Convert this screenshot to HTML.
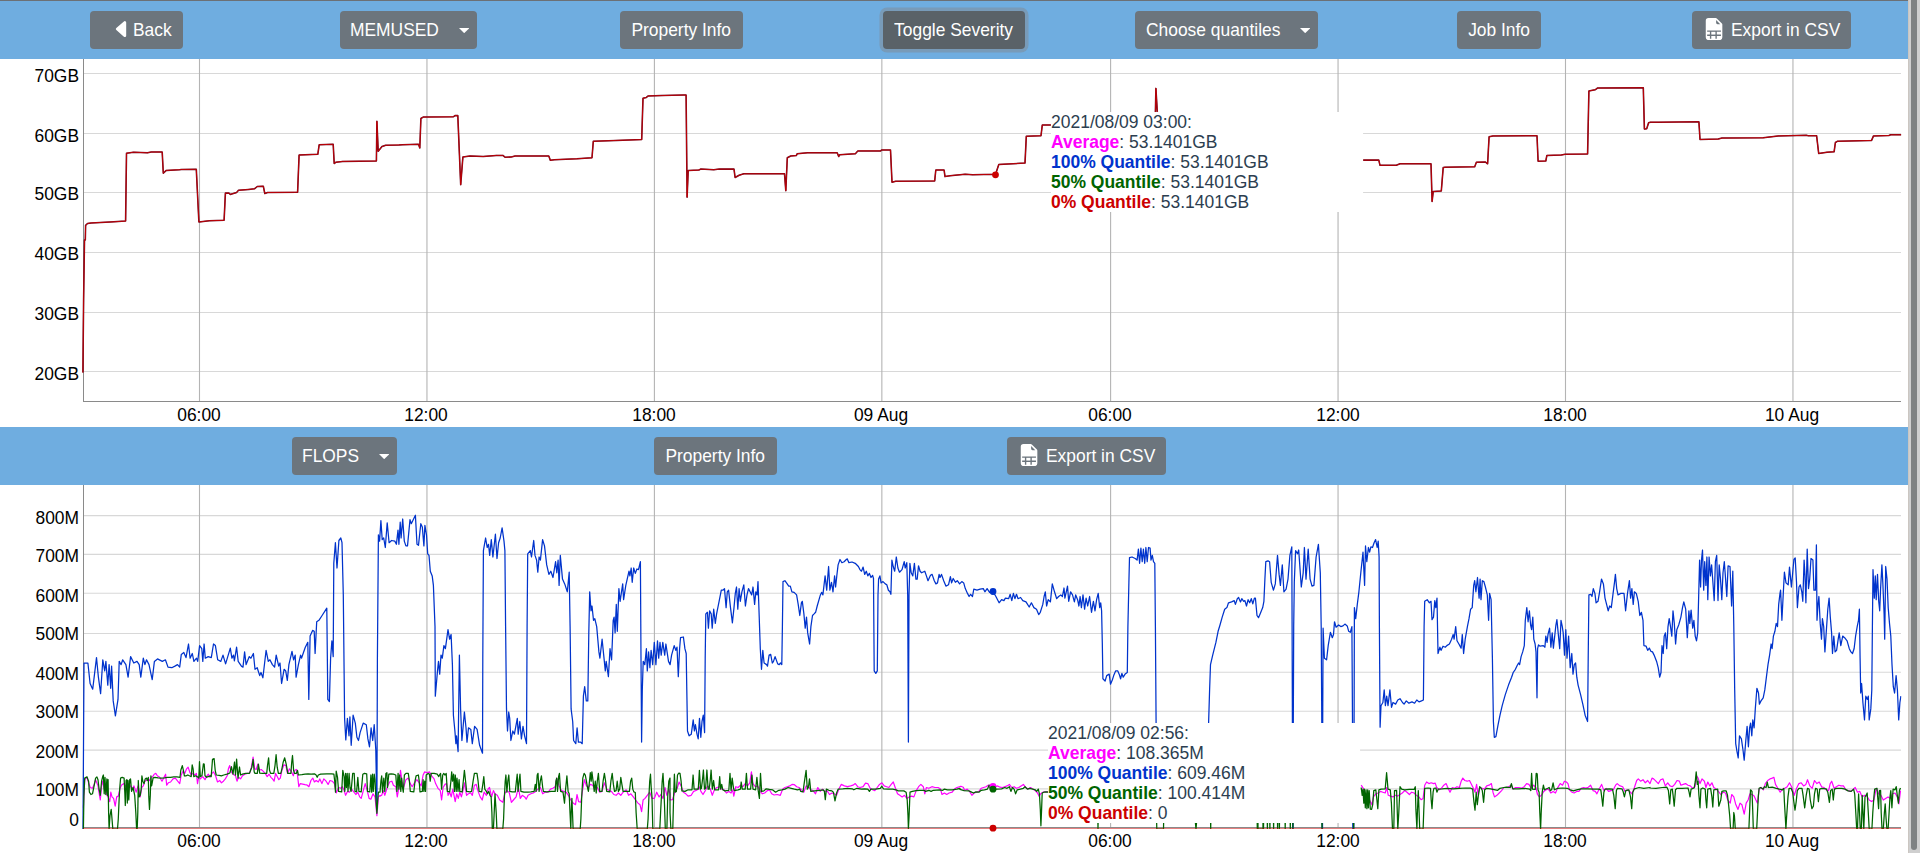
<!DOCTYPE html>
<html lang="en">
<head>
<meta charset="utf-8">
<title>Job metrics</title>
<style>
html,body{margin:0;padding:0;}
body{width:1920px;height:853px;overflow:hidden;background:#fff;font-family:"Liberation Sans",Arial,Helvetica,sans-serif;color:#2c3e50;position:relative;}
#app{position:absolute;left:0;top:0;width:1908px;height:853px;overflow:hidden;background:#fff;}
.topline{position:absolute;left:0;top:0;width:1908px;height:1px;background:#6c7075;}
.bar{position:absolute;left:0;width:1908px;height:58px;background:#6fade0;}
.btn{position:absolute;top:10px;height:38px;box-sizing:border-box;background:#6c757d;color:#fff;border-radius:4px;font-size:18.6px;line-height:38px;text-align:center;white-space:nowrap;}
.btn.active{background:#5a6268;box-shadow:0 0 0 3.5px rgba(130,138,145,.5);}
.caret{position:absolute;top:16.9px;}
.plot{position:absolute;left:0;top:0;}
.yl{position:absolute;left:0.5px;width:78px;text-align:right;font-size:18.6px;line-height:20px;color:#000;transform:scaleX(.9355);transform-origin:100% 50%;}
.xl{position:absolute;width:80px;text-align:center;font-size:18.6px;line-height:20px;color:#000;transform:scaleX(.9355);transform-origin:50% 50%;}
.legend{position:absolute;background:#fff;width:332px;height:100px;font-size:18.6px;line-height:20px;color:#2c3e50;white-space:nowrap;transform:scaleX(.94);transform-origin:0 0;}
.legend b{font-weight:bold;}
.sb{position:absolute;left:1908px;top:0;width:12px;height:853px;background:#cfcfcf;border-left:1px solid #cbc6c1;box-sizing:border-box;}
.sb i{position:absolute;left:2px;top:0;width:6px;height:850px;background:#7f8283;border-radius:0 0 3px 3px;}
.ico{position:absolute;top:6.9px;}
.btn .t{position:absolute;top:0;transform:scaleX(.9355);transform-origin:0 50%;}
.btn .c{display:inline-block;transform:scaleX(.9355);transform-origin:50% 50%;}
</style>
</head>
<body>
<div id="app">
<svg class="plot" width="1908" height="853" viewBox="0 0 1908 853">
<g stroke="#d8d8d8" stroke-width="1.1">
<line x1="84" y1="73.5" x2="1901" y2="73.5"/>
<line x1="84" y1="133.5" x2="1901" y2="133.5"/>
<line x1="84" y1="192.5" x2="1901" y2="192.5"/>
<line x1="84" y1="252.5" x2="1901" y2="252.5"/>
<line x1="84" y1="312.5" x2="1901" y2="312.5"/>
<line x1="84" y1="371.5" x2="1901" y2="371.5"/>
<line x1="84" y1="515.6" x2="1901" y2="515.6"/>
<line x1="84" y1="554.4" x2="1901" y2="554.4"/>
<line x1="84" y1="593.3" x2="1901" y2="593.3"/>
<line x1="84" y1="633.5" x2="1901" y2="633.5"/>
<line x1="84" y1="672.3" x2="1901" y2="672.3"/>
<line x1="84" y1="711.2" x2="1901" y2="711.2"/>
<line x1="84" y1="750.1" x2="1901" y2="750.1"/>
<line x1="84" y1="788.9" x2="1901" y2="788.9"/>
</g>
<g stroke="#b4b4b4" stroke-width="1.1">
<line x1="199.5" y1="59" x2="199.5" y2="401"/>
<line x1="199.5" y1="485" x2="199.5" y2="827"/>
<line x1="426.95" y1="59" x2="426.95" y2="401"/>
<line x1="426.95" y1="485" x2="426.95" y2="827"/>
<line x1="654.4" y1="59" x2="654.4" y2="401"/>
<line x1="654.4" y1="485" x2="654.4" y2="827"/>
<line x1="881.85" y1="59" x2="881.85" y2="401"/>
<line x1="881.85" y1="485" x2="881.85" y2="827"/>
<line x1="1110.6" y1="59" x2="1110.6" y2="401"/>
<line x1="1110.6" y1="485" x2="1110.6" y2="827"/>
<line x1="1338.05" y1="59" x2="1338.05" y2="401"/>
<line x1="1338.05" y1="485" x2="1338.05" y2="827"/>
<line x1="1565.5" y1="59" x2="1565.5" y2="401"/>
<line x1="1565.5" y1="485" x2="1565.5" y2="827"/>
<line x1="1792.95" y1="59" x2="1792.95" y2="401"/>
<line x1="1792.95" y1="485" x2="1792.95" y2="827"/>
</g>
<g stroke="#8a8a8a" stroke-width="1" shape-rendering="crispEdges">
<line x1="83.5" y1="59" x2="83.5" y2="402"/><line x1="83" y1="401.5" x2="1901" y2="401.5"/>
<line x1="83.5" y1="485" x2="83.5" y2="828"/><line x1="83" y1="827.5" x2="1901" y2="827.5"/>
</g>
<path d="M82.9,372.6 L83.6,300 L84.5,240 L85.3,240.0 L85.6,225.4 L87.5,223.5 L91.3,222.9 L110.0,222.0 L125.6,221.1 L126.5,153.2 L133.5,152.2 L147.5,152.8 L151.3,152.0 L162.2,152.0 L163.3,173.2 L166.3,170.4 L179.4,169.7 L181.3,169.5 L196.3,169.3 L198.9,222.0 L209.4,220.7 L224.1,220.3 L225.4,193.1 L229.1,193.1 L230.1,194.4 L236.6,192.5 L238.5,190.3 L248.8,189.4 L254.4,188.8 L257.3,186.5 L263.3,186.2 L264.8,193.5 L267.6,192.5 L297.6,192.2 L299.1,155.0 L317.8,154.3 L319.2,144.7 L333.2,144.3 L334.2,163.5 L336.0,162.2 L342.6,161.4 L376.4,161.0 L376.9,121.3 L378.2,151.3 L382.0,146.6 L385.7,145.3 L398.9,144.9 L402.5,144.7 L418.5,144.3 L419.8,147.9 L420.9,118.5 L423.1,117.1 L453.2,116.8 L455.0,115.6 L457.8,115.6 L460.7,184.7 L462.9,156.9 L470.0,156.0 L483.2,156.5 L496.3,155.4 L502.9,155.4 L505.3,157.3 L511.3,156.9 L515.1,156.0 L548.8,156.0 L550.3,160.3 L554.4,159.7 L577.0,158.8 L592.0,157.8 L593.3,141.3 L616.3,140.4 L641.7,139.6 L643.0,98.2 L646.4,97.4 L648.2,95.9 L661.4,95.6 L683.9,95.0 L686.1,95.0 L687.1,197.2 L688.2,170.6 L698.9,170.0 L700.6,169.1 L713.8,169.7 L719.4,169.1 L734.0,169.1 L735.1,177.5 L739.1,175.3 L743.8,173.8 L784.5,173.8 L785.8,190.7 L787.3,157.8 L790.7,156.0 L796.3,155.6 L797.2,153.7 L807.5,152.8 L837.2,152.8 L838.7,156.5 L839.8,154.7 L855.4,153.7 L857.8,150.9 L880.7,150.9 L881.6,150.0 L890.5,150.0 L892.0,182.2 L895.7,181.3 L934.7,180.9 L935.8,170.0 L944.1,170.0 L945.0,176.6 L950.1,175.7 L965.1,174.2 L972.6,174.7 L995.1,174.3 L995.4,174.7 L998.8,164.4 L1025.0,163.1 L1026.3,136.3 L1041.0,135.7 L1042.3,125.0 L1050.9,125.0" fill="none" stroke="#640a24" stroke-width="1.55" stroke-linejoin="round"/>
<path d="M82.9,372.6 L83.6,300 L84.5,240 L85.3,240.0 L85.6,225.4 L87.5,223.5 L91.3,222.9 L110.0,222.0 L125.6,221.1 L126.5,153.2 L133.5,152.2 L147.5,152.8 L151.3,152.0 L162.2,152.0 L163.3,173.2 L166.3,170.4 L179.4,169.7 L181.3,169.5 L196.3,169.3 L198.9,222.0 L209.4,220.7 L224.1,220.3 L225.4,193.1 L229.1,193.1 L230.1,194.4 L236.6,192.5 L238.5,190.3 L248.8,189.4 L254.4,188.8 L257.3,186.5 L263.3,186.2 L264.8,193.5 L267.6,192.5 L297.6,192.2 L299.1,155.0 L317.8,154.3 L319.2,144.7 L333.2,144.3 L334.2,163.5 L336.0,162.2 L342.6,161.4 L376.4,161.0 L376.9,121.3 L378.2,151.3 L382.0,146.6 L385.7,145.3 L398.9,144.9 L402.5,144.7 L418.5,144.3 L419.8,147.9 L420.9,118.5 L423.1,117.1 L453.2,116.8 L455.0,115.6 L457.8,115.6 L460.7,184.7 L462.9,156.9 L470.0,156.0 L483.2,156.5 L496.3,155.4 L502.9,155.4 L505.3,157.3 L511.3,156.9 L515.1,156.0 L548.8,156.0 L550.3,160.3 L554.4,159.7 L577.0,158.8 L592.0,157.8 L593.3,141.3 L616.3,140.4 L641.7,139.6 L643.0,98.2 L646.4,97.4 L648.2,95.9 L661.4,95.6 L683.9,95.0 L686.1,95.0 L687.1,197.2 L688.2,170.6 L698.9,170.0 L700.6,169.1 L713.8,169.7 L719.4,169.1 L734.0,169.1 L735.1,177.5 L739.1,175.3 L743.8,173.8 L784.5,173.8 L785.8,190.7 L787.3,157.8 L790.7,156.0 L796.3,155.6 L797.2,153.7 L807.5,152.8 L837.2,152.8 L838.7,156.5 L839.8,154.7 L855.4,153.7 L857.8,150.9 L880.7,150.9 L881.6,150.0 L890.5,150.0 L892.0,182.2 L895.7,181.3 L934.7,180.9 L935.8,170.0 L944.1,170.0 L945.0,176.6 L950.1,175.7 L965.1,174.2 L972.6,174.7 L995.1,174.3 L995.4,174.7 L998.8,164.4 L1025.0,163.1 L1026.3,136.3 L1041.0,135.7 L1042.3,125.0 L1050.9,125.0" fill="none" stroke="#cc0000" stroke-width="0.85" stroke-linejoin="round"/>
<path d="M1155.4,111.9 L1155.9,88.4 L1157.3,111.9" fill="none" stroke="#640a24" stroke-width="1.55" stroke-linejoin="round"/>
<path d="M1155.4,111.9 L1155.9,88.4 L1157.3,111.9" fill="none" stroke="#cc0000" stroke-width="0.85" stroke-linejoin="round"/>
<path d="M1363.1,160.1 L1378.8,160.1 L1380.0,165.3 L1396.3,165.3 L1400.0,163.8 L1431.0,163.8 L1432.1,201.5 L1433.2,191.6 L1441.3,191.0 L1443.2,167.6 L1445.0,167.2 L1474.7,166.8 L1476.4,162.2 L1485.4,162.0 L1487.6,163.8 L1489.1,136.8 L1492.9,135.9 L1537.0,135.7 L1538.1,161.2 L1545.8,161.0 L1546.9,155.4 L1561.3,155.0 L1565.1,154.3 L1587.6,153.9 L1588.9,90.9 L1595.1,89.8 L1597.4,88.1 L1643.3,87.7 L1644.4,129.1 L1646.7,128.8 L1648.6,122.8 L1650.4,122.2 L1658.9,122.2 L1698.9,121.8 L1700.0,139.5 L1718.2,139.1 L1721.9,138.1 L1763.2,137.8 L1778.2,135.9 L1806.3,135.3 L1808.2,135.7 L1816.6,135.7 L1818.7,153.5 L1827.0,152.2 L1834.1,151.8 L1835.4,142.5 L1837.3,141.3 L1871.6,140.4 L1873.5,135.9 L1888.9,135.5 L1890.7,134.8 L1901.1,134.8" fill="none" stroke="#640a24" stroke-width="1.55" stroke-linejoin="round"/>
<path d="M1363.1,160.1 L1378.8,160.1 L1380.0,165.3 L1396.3,165.3 L1400.0,163.8 L1431.0,163.8 L1432.1,201.5 L1433.2,191.6 L1441.3,191.0 L1443.2,167.6 L1445.0,167.2 L1474.7,166.8 L1476.4,162.2 L1485.4,162.0 L1487.6,163.8 L1489.1,136.8 L1492.9,135.9 L1537.0,135.7 L1538.1,161.2 L1545.8,161.0 L1546.9,155.4 L1561.3,155.0 L1565.1,154.3 L1587.6,153.9 L1588.9,90.9 L1595.1,89.8 L1597.4,88.1 L1643.3,87.7 L1644.4,129.1 L1646.7,128.8 L1648.6,122.8 L1650.4,122.2 L1658.9,122.2 L1698.9,121.8 L1700.0,139.5 L1718.2,139.1 L1721.9,138.1 L1763.2,137.8 L1778.2,135.9 L1806.3,135.3 L1808.2,135.7 L1816.6,135.7 L1818.7,153.5 L1827.0,152.2 L1834.1,151.8 L1835.4,142.5 L1837.3,141.3 L1871.6,140.4 L1873.5,135.9 L1888.9,135.5 L1890.7,134.8 L1901.1,134.8" fill="none" stroke="#cc0000" stroke-width="0.85" stroke-linejoin="round"/>
<circle cx="995.5" cy="174.8" r="3.4" fill="#cc0000"/>
<defs><clipPath id="c2clip"><rect x="82" y="485" width="1819.5" height="344"/></clipPath></defs><g fill="none" stroke-linejoin="round" clip-path="url(#c2clip)">
<path d="M83.4,807.8 L84.7,779.7 L87.0,777.3 L88.6,782.8 L90.2,787.5 L92.5,788.3 L94.1,784.4 L95.6,779.7 L98.0,785.9 L99.5,795.3 L100.3,800.0 L101.6,785.9 L102.7,781.2 L104.2,789.1 L105.8,787.5 L106.9,795.3 L108.1,796.9 L109.7,801.6 L110.8,792.2 L112.0,796.9 L113.6,798.4 L115.2,806.2 L116.7,796.9 L118.3,796.1 L119.8,789.1 L121.4,785.2 L123.8,783.6 L126.1,786.7 L128.4,783.6 L130.8,786.7 L132.3,789.1 L133.9,785.9 L136.2,792.2 L138.1,785.9 L140.2,796.9 L141.7,787.5 L143.3,785.9 L144.8,781.2 L146.4,780.5 L148.0,778.9 L149.5,780.5 L151.1,777.3 L152.7,776.6 L154.2,774.2 L155.8,773.4 L157.3,775.8 L159.7,777.3 L162.0,781.2 L164.4,776.6 L165.6,774.2 L166.7,785.2 L168.3,782.8 L170.6,782.0 L173.0,778.9 L175.3,778.1 L177.7,781.2 L179.7,783.6 L181.2,775.0 L183.1,771.1 L184.7,773.4 L186.6,768.8 L188.1,767.2 L189.7,771.9 L191.2,775.0 L192.8,773.4 L194.8,775.0 L196.4,773.4 L197.5,783.6 L198.8,776.6 L200.3,778.9 L202.7,776.6 L205.0,779.7 L206.9,775.8 L208.4,774.2 L210.0,777.3 L212.0,773.4 L213.6,771.9 L215.6,775.8 L217.5,782.0 L219.8,780.5 L221.4,782.8 L223.4,781.2 L225.3,778.9 L227.2,775.8 L228.4,768.8 L229.7,765.6 L231.2,771.9 L233.1,774.2 L235.5,775.8 L237.0,781.2 L238.6,777.3 L240.6,778.9 L242.5,775.8 L244.8,774.2 L247.2,773.4 L249.5,773.4 L251.1,768.8 L253.1,757.0 L254.7,768.8 L256.2,769.5 L257.8,764.1 L259.4,770.3 L261.2,769.5 L263.1,771.1 L265.2,773.4 L267.2,776.6 L269.1,774.2 L270.9,777.3 L272.5,778.9 L274.1,781.2 L275.6,773.4 L277.2,776.6 L278.8,779.7 L280.3,778.1 L281.9,770.3 L283.9,764.8 L285.9,765.6 L287.5,773.4 L289.4,768.8 L291.2,771.1 L293.3,775.8 L294.8,770.3 L296.4,769.5 L297.5,775.0 L298.8,786.7 L300.3,783.6 L302.7,784.1 L305.0,784.7 L307.3,785.2 L308.9,786.7 L310.9,780.5 L312.8,778.1 L314.4,782.0 L316.2,780.5 L318.3,782.0 L319.8,778.9 L321.9,783.6 L323.8,778.9 L326.1,781.2 L328.1,784.4 L330.0,780.5 L332.3,781.2 L334.4,783.6 L336.2,793.0 L338.6,787.5 L340.6,788.3 L342.5,786.7 L344.1,790.6 L345.6,795.3 L347.5,791.4 L349.5,792.2 L351.6,789.1 L353.4,791.4 L355.8,794.5 L357.8,792.2 L359.7,796.9 L361.2,798.4 L363.1,791.4 L365.2,783.6 L367.2,790.6 L369.1,798.4 L370.9,799.2 L373.0,793.8 L375.0,796.9 L376.9,815.6 L378.4,796.9 L380.0,795.3 L380.0,796.1 L381.7,795.3 L383.3,790.6 L384.8,795.3 L387.2,787.5 L389.5,782.0 L391.9,781.2 L393.4,785.2 L395.8,786.7 L397.3,796.9 L398.9,787.5 L400.5,770.3 L402.0,781.2 L403.6,787.5 L405.9,779.7 L408.3,778.1 L410.3,783.6 L412.2,786.7 L414.5,782.8 L416.9,779.7 L419.2,782.8 L421.2,785.9 L423.1,775.0 L424.7,771.9 L427.0,772.7 L429.4,771.9 L431.7,775.8 L434.1,778.9 L435.6,783.6 L438.0,788.3 L440.3,790.6 L441.6,800.0 L443.1,787.5 L445.0,784.4 L446.6,783.6 L448.1,795.3 L449.7,792.2 L451.2,796.9 L452.8,789.1 L455.2,801.6 L456.7,793.8 L458.3,798.4 L459.8,792.2 L461.4,796.9 L463.0,790.6 L464.5,782.8 L466.6,795.3 L468.4,793.8 L470.8,793.0 L472.3,795.3 L474.4,785.2 L476.2,784.4 L478.1,791.4 L480.2,796.9 L482.2,800.0 L484.1,792.2 L486.4,795.3 L488.0,789.1 L489.5,787.5 L491.6,796.9 L493.4,790.6 L495.0,793.8 L497.3,795.3 L499.7,800.0 L502.8,802.3 L504.7,793.8 L506.7,790.6 L509.1,792.2 L511.4,802.3 L513.4,800.0 L516.1,796.9 L518.4,787.5 L520.3,798.4 L522.3,795.3 L524.7,796.9 L526.2,799.2 L528.1,795.3 L530.9,793.8 L533.3,793.0 L535.6,791.4 L538.0,789.1 L540.3,787.5 L542.7,793.8 L545.0,792.2 L548.1,792.2 L550.5,789.1 L552.8,788.3 L555.2,786.7 L556.7,778.1 L559.1,785.9 L561.4,790.6 L563.8,791.4 L566.1,792.2 L568.4,795.3 L570.8,800.0 L573.1,803.1 L575.5,804.7 L577.0,794.5 L578.6,801.6 L580.9,802.3 L582.5,790.6 L584.4,779.7 L586.4,785.9 L588.4,787.5 L590.3,784.4 L592.7,785.2 L595.0,789.8 L597.3,787.5 L599.7,792.2 L602.0,791.4 L604.4,782.8 L606.7,789.1 L609.1,790.6 L611.4,791.4 L613.8,794.5 L616.1,795.3 L618.4,793.0 L620.8,795.3 L623.1,792.2 L626.2,789.8 L628.6,795.3 L630.9,793.8 L633.3,796.9 L635.6,800.0 L638.0,803.1 L640.0,804.7 L641.6,811.7 L643.1,800.0 L645.0,798.4 L647.3,795.3 L649.7,792.2 L652.0,798.4 L654.4,798.4 L656.7,792.2 L659.1,796.9 L660.9,794.5 L663.0,798.4 L665.0,787.5 L666.9,795.3 L668.8,789.1 L670.0,793.8 L670.0,800.0 L672.5,799.7 L674.8,792.2 L677.2,788.3 L679.1,782.0 L681.1,785.9 L683.4,792.2 L685.8,793.8 L688.1,796.1 L691.2,795.3 L693.6,791.4 L696.7,790.3 L699.1,786.7 L700.9,791.4 L703.0,794.5 L705.3,790.6 L707.7,785.9 L710.0,788.3 L712.3,795.3 L714.7,789.1 L717.0,787.5 L719.4,786.7 L721.7,789.1 L724.1,789.8 L726.4,793.0 L728.8,791.4 L731.1,793.0 L732.7,789.8 L733.8,796.1 L735.8,786.7 L738.1,787.5 L740.5,785.2 L742.8,786.7 L745.2,783.6 L747.5,785.9 L749.8,782.8 L751.4,771.9 L753.0,783.6 L755.3,786.7 L757.7,785.9 L760.0,790.6 L762.3,793.8 L764.7,793.0 L767.0,790.9 L769.4,789.8 L771.7,793.8 L774.1,795.0 L777.2,794.5 L780.3,795.3 L782.7,789.1 L785.0,787.5 L787.3,786.7 L789.7,785.9 L792.0,784.4 L794.4,784.7 L796.7,786.7 L799.1,787.5 L801.4,789.8 L803.8,792.2 L806.1,785.9 L808.4,786.7 L810.8,789.8 L813.1,790.6 L815.5,793.8 L817.8,787.5 L820.2,791.4 L822.5,789.1 L824.8,791.4 L827.2,790.9 L829.5,794.5 L831.9,793.0 L834.2,793.8 L836.6,795.3 L838.9,789.1 L841.2,784.4 L844.4,785.9 L847.5,786.7 L850.6,785.9 L853.0,785.2 L855.3,783.6 L857.7,786.7 L860.0,787.5 L863.1,786.7 L865.5,783.1 L867.8,783.6 L870.2,788.3 L872.5,789.8 L874.8,790.6 L877.2,787.5 L879.5,784.4 L881.9,782.8 L884.2,785.9 L886.6,786.7 L888.9,787.5 L891.2,784.4 L893.3,782.0 L895.2,787.5 L897.5,793.8 L899.8,795.3 L902.2,796.9 L904.5,795.3 L906.9,798.4 L909.2,796.9 L911.6,796.1 L913.9,796.9 L916.2,790.6 L918.6,786.7 L920.9,784.4 L923.3,786.7 L924.8,793.8 L926.4,787.5 L928.8,788.3 L931.9,786.7 L935.0,787.5 L938.1,787.5 L940.5,789.1 L942.0,794.5 L944.4,793.0 L946.7,794.5 L949.1,793.0 L952.2,792.2 L954.5,789.1 L956.9,787.5 L960.0,786.7 L960.9,786.2 L963.3,787.2 L964.8,790.6 L967.2,789.1 L969.5,791.4 L971.9,795.3 L974.2,793.0 L976.6,792.2 L978.9,791.4 L981.2,788.3 L983.6,787.5 L985.9,786.7 L988.3,785.2 L990.6,785.6 L993.0,784.7 L995.3,786.7 L997.7,785.9 L1000.0,787.2 L1002.3,787.5 L1004.7,786.7 L1007.0,785.9 L1009.4,784.4 L1011.7,787.5 L1014.1,786.7 L1016.4,788.3 L1018.8,787.5 L1021.1,785.9 L1023.4,784.4 L1025.8,787.5 L1028.1,789.1 L1030.5,787.5 L1032.8,789.1 L1035.2,790.6 L1037.5,793.0 L1039.1,796.1 L1040.6,793.8 L1043.0,792.2 L1045.3,791.9 L1050.0,791.9" stroke="#ff00ff" stroke-width="1.2"/>
<path d="M1361.2,785.2 L1363.3,788.3 L1365.6,795.3 L1368.0,796.9 L1370.3,801.6 L1371.9,804.7 L1373.4,796.9 L1375.8,793.8 L1378.1,793.0 L1380.5,791.4 L1382.8,792.2 L1385.2,793.0 L1386.7,787.5 L1388.3,795.3 L1390.6,796.1 L1393.0,796.9 L1395.3,795.3 L1397.7,796.1 L1400.0,794.5 L1402.3,793.0 L1404.7,790.6 L1407.0,792.2 L1409.4,794.5 L1411.7,792.2 L1414.1,793.0 L1416.4,795.3 L1418.8,796.9 L1421.1,799.7 L1423.1,798.4 L1424.7,785.2 L1426.6,782.0 L1428.9,783.6 L1431.2,782.8 L1433.6,783.6 L1435.2,783.1 L1436.7,787.5 L1439.1,789.8 L1441.4,788.3 L1443.8,785.2 L1446.1,783.6 L1448.1,788.3 L1450.0,792.2 L1452.3,787.5 L1454.7,788.3 L1457.0,786.7 L1459.4,787.5 L1461.2,781.2 L1462.8,778.1 L1464.8,780.5 L1467.2,781.2 L1469.5,780.5 L1471.9,785.2 L1473.4,788.3 L1475.0,792.2 L1476.6,784.4 L1478.1,794.5 L1479.7,787.5 L1482.0,788.3 L1484.4,789.1 L1486.7,785.9 L1489.1,785.2 L1491.4,783.6 L1493.0,792.2 L1494.5,796.9 L1496.9,795.3 L1499.2,793.0 L1501.6,790.6 L1503.9,787.5 L1506.2,787.5 L1508.6,786.7 L1510.9,785.2 L1513.3,789.1 L1515.6,787.5 L1518.8,787.5 L1521.9,788.0 L1524.2,786.7 L1526.6,783.6 L1528.9,784.4 L1531.2,788.3 L1533.6,785.2 L1535.9,787.5 L1537.5,794.5 L1539.4,796.9 L1541.4,795.3 L1543.8,791.4 L1546.1,789.8 L1548.4,789.1 L1550.8,793.0 L1553.1,791.4 L1555.5,793.0 L1557.8,787.5 L1560.2,783.6 L1562.5,785.2 L1564.4,781.2 L1566.4,782.0 L1568.0,783.6 L1569.5,789.8 L1571.9,792.2 L1574.2,793.0 L1576.6,791.4 L1578.9,791.4 L1581.2,788.3 L1583.6,787.5 L1585.9,788.0 L1588.3,787.2 L1590.6,785.2 L1593.0,790.6 L1595.3,791.4 L1596.9,793.8 L1599.2,789.1 L1601.6,784.4 L1603.9,790.6 L1606.2,788.3 L1608.6,791.4 L1610.9,790.6 L1613.3,789.8 L1615.6,785.2 L1617.2,783.6 L1619.5,785.6 L1622.7,786.7 L1625.0,791.4 L1627.3,789.8 L1629.7,791.4 L1632.0,793.8 L1634.4,787.5 L1636.7,780.5 L1638.3,778.9 L1640.6,781.2 L1643.0,779.7 L1645.3,782.8 L1647.7,780.5 L1650.0,783.6 L1650.0,783.6 L1652.0,778.1 L1653.6,778.9 L1655.9,781.2 L1658.3,783.6 L1660.6,779.7 L1663.0,778.9 L1665.3,785.9 L1667.7,782.8 L1670.0,785.9 L1672.3,786.7 L1674.7,784.4 L1677.0,780.5 L1679.4,781.2 L1680.9,785.2 L1683.3,784.4 L1685.6,783.6 L1688.0,785.2 L1690.3,785.9 L1692.7,788.3 L1695.0,786.7 L1696.6,775.8 L1698.1,778.1 L1700.0,783.6 L1702.0,778.9 L1704.4,781.2 L1705.9,787.5 L1707.8,782.0 L1709.8,785.9 L1711.9,782.8 L1713.8,787.5 L1716.1,789.1 L1718.4,791.4 L1720.8,794.5 L1723.1,792.2 L1725.5,793.0 L1727.8,800.0 L1730.2,803.1 L1731.7,794.5 L1733.8,796.9 L1735.6,803.9 L1738.0,809.4 L1740.0,803.1 L1741.9,804.7 L1744.2,814.1 L1746.2,803.1 L1748.1,800.0 L1750.0,793.8 L1752.0,794.5 L1754.1,796.1 L1755.9,800.0 L1757.5,803.1 L1759.1,789.1 L1761.4,787.5 L1763.4,789.8 L1765.3,783.6 L1767.7,780.5 L1770.0,778.9 L1772.3,778.1 L1773.9,777.3 L1775.5,784.4 L1777.8,788.3 L1780.2,792.2 L1782.5,789.1 L1784.8,788.3 L1787.2,786.7 L1789.5,782.8 L1791.9,787.5 L1794.2,795.3 L1796.6,788.3 L1798.9,783.6 L1801.2,782.8 L1803.6,785.9 L1805.9,784.4 L1807.5,779.7 L1809.8,785.9 L1812.2,788.3 L1814.5,780.5 L1816.9,783.6 L1819.2,782.0 L1821.6,786.7 L1823.9,787.5 L1826.2,789.8 L1828.6,790.6 L1830.2,783.6 L1831.7,781.2 L1834.1,788.3 L1836.4,786.7 L1838.8,785.2 L1841.1,785.9 L1843.4,785.9 L1845.8,789.8 L1848.1,790.6 L1850.5,791.4 L1852.8,789.8 L1855.2,787.5 L1857.5,792.2 L1859.8,791.4 L1862.2,796.9 L1864.5,795.3 L1866.9,796.1 L1869.2,800.0 L1871.6,801.6 L1873.9,800.0 L1876.2,788.3 L1878.6,793.8 L1880.9,795.3 L1883.3,800.0 L1885.6,798.4 L1888.0,796.9 L1890.3,798.4 L1892.7,793.8 L1895.0,793.0 L1897.3,796.9 L1898.9,803.9 L1900.5,790.6" stroke="#ff00ff" stroke-width="1.2"/>
<path d="M83.0,829.0 L84.0,663.0 L87.9,663.0 L90.1,683.5 L92.7,689.2 L96.5,657.6 L98.4,677.2 L100.6,693.7 L102.8,659.8 L104.7,670.9 L105.9,661.4 L107.8,685.1 L109.1,664.6 L110.7,688.3 L111.6,666.1 L113.2,700.9 L115.4,715.8 L118.0,699.4 L119.2,661.4 L121.1,664.6 L122.7,659.8 L125.9,664.6 L128.1,677.2 L130.6,656.6 L133.8,663.0 L137.0,661.4 L139.2,664.6 L140.8,677.2 L143.3,658.2 L144.9,664.6 L146.5,659.8 L149.0,664.6 L152.2,679.7 L154.4,661.4 L157.5,658.9 L162.3,661.4 L165.4,659.8 L168.0,667.1 L171.8,667.7 L174.9,666.1 L177.5,664.6 L179.7,667.1 L181.3,654.4 L183.8,652.5 L186.0,657.6 L188.5,644.0 L190.1,658.2 L192.3,653.5 L193.9,661.4 L196.5,658.2 L197.7,661.4 L199.6,645.6 L201.8,648.7 L202.8,661.4 L204.1,644.0 L205.3,658.2 L208.2,656.6 L211.3,657.6 L213.5,644.0 L215.4,645.6 L217.7,659.8 L220.8,661.4 L223.0,655.1 L225.6,663.9 L230.3,648.1 L231.9,658.2 L233.5,655.1 L234.4,660.8 L236.6,647.2 L238.2,661.4 L241.4,666.1 L243.0,667.1 L244.6,651.9 L246.1,664.6 L249.3,656.6 L250.9,658.2 L253.4,653.5 L255.0,669.3 L257.2,667.7 L259.7,675.6 L261.0,672.5 L262.9,677.8 L266.1,650.3 L268.3,661.4 L269.9,659.8 L272.4,664.6 L274.6,667.1 L276.2,655.1 L278.7,666.1 L280.0,663.0 L281.6,683.5 L284.1,669.3 L285.7,670.9 L287.3,680.4 L288.9,664.6 L292.0,651.3 L293.6,659.8 L295.2,655.1 L296.1,677.2 L298.4,664.6 L300.6,655.1 L301.5,658.2 L305.3,647.2 L307.8,642.4 L308.8,699.4 L310.1,636.1 L312.6,630.4 L314.2,631.3 L315.1,653.5 L316.7,621.8 L318.9,620.3 L322.1,615.5 L326.8,608.2 L327.8,699.4 L329.4,701.6 L330.6,658.2 L331.9,640.8 L333.2,656.6 L333.8,563.3 L335.4,542.7 L337.0,568.0 L338.9,540.5 L340.8,538.0 L342.0,542.7 L343.3,594.9 L344.6,718.4 L345.8,739.9 L347.4,718.4 L349.0,735.8 L349.9,716.8 L351.2,745.3 L353.1,715.2 L355.3,723.1 L356.9,737.3 L358.5,740.5 L360.1,732.6 L363.2,723.1 L366.3,724.7 L367.9,738.9 L369.5,746.8 L371.1,727.8 L372.7,740.5 L374.2,724.7 L375.8,750.0 L376.9,808.9 L377.4,658.2 L378.4,534.8 L379.6,541.1 L380.9,520.6 L382.2,539.6 L383.7,538.0 L385.3,547.5 L387.2,522.8 L389.1,542.7 L391.6,540.5 L394.8,541.1 L396.4,544.3 L398.0,530.1 L398.9,544.3 L400.2,522.2 L401.1,538.0 L402.7,519.0 L404.3,541.1 L405.9,545.9 L407.5,545.9 L410.0,519.6 L411.3,523.7 L415.4,515.2 L417.0,544.3 L418.5,545.3 L420.8,523.7 L422.3,526.9 L423.9,545.9 L424.9,525.3 L426.5,534.8 L427.7,553.8 L429.0,555.4 L430.3,571.2 L432.2,575.9 L433.4,585.4 L435.0,626.6 L435.3,696.2 L437.5,670.9 L438.5,661.4 L439.7,674.1 L441.0,655.1 L442.3,658.2 L443.9,645.6 L445.4,648.7 L448.0,629.7 L449.6,639.2 L451.1,634.5 L452.4,664.6 L453.4,715.2 L454.9,731.0 L455.9,743.7 L456.5,735.8 L458.1,751.6 L459.4,655.1 L460.6,708.9 L461.9,740.5 L464.4,712.0 L466.0,727.8 L467.0,742.1 L468.5,727.8 L470.8,729.4 L472.3,743.7 L474.6,726.3 L477.1,729.4 L479.6,745.3 L482.5,753.2 L482.8,658.2 L483.4,550.6 L485.6,538.0 L487.2,547.5 L488.5,544.3 L489.7,555.4 L491.3,539.6 L492.9,557.0 L495.4,534.2 L497.0,558.5 L498.6,542.7 L500.2,538.0 L502.1,527.8 L504.0,541.1 L504.9,550.6 L505.6,626.6 L506.5,708.9 L507.5,731.0 L508.7,712.0 L509.7,718.4 L510.9,740.5 L512.8,731.0 L514.4,734.2 L517.3,718.4 L518.2,734.2 L519.8,721.5 L521.4,738.9 L523.0,726.3 L524.6,735.8 L526.5,743.7 L527.1,626.6 L527.7,553.8 L530.3,550.6 L531.5,557.0 L533.7,540.5 L535.0,555.4 L536.6,560.1 L537.8,572.2 L539.1,557.0 L540.4,560.1 L542.6,539.6 L544.5,545.9 L546.7,564.9 L548.9,574.4 L550.8,571.2 L553.0,577.5 L555.6,561.7 L556.8,572.8 L558.1,560.1 L559.1,585.4 L560.3,555.4 L562.5,579.1 L564.7,583.9 L567.3,591.8 L569.2,572.2 L570.1,626.6 L571.1,708.9 L572.7,721.5 L573.6,740.5 L575.8,743.7 L577.1,727.8 L578.4,742.1 L580.6,742.1 L582.2,743.7 L583.4,696.2 L584.7,686.7 L586.3,700.9 L587.8,700.9 L588.8,632.9 L589.7,591.8 L591.0,610.8 L592.0,606.0 L593.5,620.3 L594.8,618.7 L596.7,626.6 L598.9,651.9 L599.9,658.2 L602.1,639.2 L603.7,655.1 L605.3,670.9 L606.2,661.4 L608.4,676.6 L610.0,648.7 L611.6,659.8 L613.2,620.3 L614.1,617.1 L615.1,632.9 L616.3,604.4 L617.3,631.3 L618.9,588.6 L620.1,601.3 L622.7,583.9 L623.6,599.7 L625.8,585.4 L629.0,571.2 L629.9,575.9 L631.2,568.0 L632.2,582.3 L633.7,568.0 L635.3,573.4 L636.9,569.0 L638.5,569.6 L640.4,561.7 L641.0,658.2 L641.6,742.1 L642.3,689.9 L643.2,661.4 L644.8,664.6 L646.4,648.7 L647.3,670.9 L648.6,651.9 L649.9,667.7 L651.1,650.3 L652.7,664.6 L654.3,642.4 L655.9,664.6 L657.5,640.8 L658.7,658.2 L660.0,642.4 L661.2,655.1 L662.8,642.4 L664.7,655.1 L665.9,644.0 L668.5,661.4 L670.1,664.6 L671.6,655.1 L674.2,645.6 L675.8,650.3 L677.0,647.2 L678.3,676.6 L679.6,648.7 L680.5,637.7 L683.4,637.0 L684.9,648.7 L686.2,653.5 L686.8,689.9 L687.5,731.0 L689.1,735.8 L691.3,734.2 L693.2,719.9 L694.4,731.0 L695.4,724.7 L697.0,734.2 L698.2,738.9 L699.5,718.4 L700.8,737.3 L702.0,721.5 L703.3,715.2 L704.6,732.6 L705.2,658.2 L705.8,613.9 L707.4,612.3 L708.4,628.2 L709.6,610.8 L711.2,613.9 L712.2,628.2 L713.7,609.2 L715.3,623.4 L716.6,613.9 L719.1,601.3 L721.3,590.2 L722.9,590.2 L724.5,588.6 L726.1,607.6 L727.3,591.8 L728.6,590.2 L730.5,607.6 L732.4,622.8 L734.0,607.6 L735.3,593.4 L736.5,587.0 L737.8,609.2 L739.1,588.6 L740.3,601.3 L741.9,591.8 L743.8,584.8 L745.4,606.0 L747.0,594.9 L748.5,588.6 L750.1,591.8 L751.7,594.9 L753.0,587.0 L754.6,604.4 L755.8,591.8 L757.1,594.9 L758.0,581.6 L759.0,610.8 L760.3,648.7 L761.5,669.3 L762.8,650.3 L764.1,663.0 L766.6,664.6 L767.5,666.1 L769.1,655.1 L770.7,654.4 L772.3,663.0 L773.5,661.4 L775.1,656.6 L777.7,663.9 L779.2,664.6 L780.5,663.0 L781.8,664.6 L782.4,626.6 L783.0,581.6 L784.9,580.7 L787.2,583.9 L788.7,586.1 L790.3,586.1 L791.9,591.8 L794.1,592.4 L796.6,594.9 L798.2,604.4 L799.8,615.5 L801.4,602.8 L802.3,601.3 L803.9,613.9 L805.2,628.2 L806.5,617.1 L807.7,632.9 L809.6,644.0 L810.9,626.6 L812.5,615.5 L814.1,613.9 L815.6,612.3 L817.2,606.0 L820.4,594.9 L821.6,592.4 L822.9,594.9 L825.1,575.9 L826.7,590.2 L828.6,566.5 L829.9,590.2 L831.5,582.3 L833.0,591.8 L834.6,575.9 L835.6,587.0 L836.8,575.9 L838.1,564.9 L840.0,559.5 L841.9,562.7 L844.1,561.7 L846.3,559.5 L847.3,558.9 L848.9,562.7 L852.0,562.0 L855.2,563.3 L858.4,566.5 L859.9,569.6 L861.5,571.2 L863.1,567.1 L864.7,574.4 L866.3,571.2 L867.8,575.9 L869.4,573.4 L871.0,577.5 L872.6,575.3 L873.5,578.5 L874.2,670.9 L875.8,673.4 L877.3,670.9 L878.0,594.9 L878.6,579.1 L879.9,575.9 L881.1,582.9 L883.0,581.6 L885.3,583.9 L886.8,584.8 L888.4,590.2 L890.0,591.8 L890.9,594.3 L891.9,560.1 L893.2,566.5 L894.7,571.2 L896.3,557.0 L897.9,568.0 L899.5,572.2 L902.0,569.6 L904.2,561.7 L905.2,568.0 L906.8,562.7 L907.7,594.9 L908.4,742.1 L909.0,594.9 L909.9,563.3 L911.2,572.8 L912.8,575.9 L914.4,563.3 L915.9,579.1 L917.2,579.1 L918.5,565.8 L920.1,571.2 L921.6,572.8 L924.8,571.2 L926.4,575.9 L928.0,580.7 L930.5,575.3 L932.1,574.4 L934.3,580.7 L935.9,583.9 L937.5,582.9 L939.1,574.4 L940.0,577.5 L941.5,574.4 L943.7,580.7 L945.9,586.1 L948.5,584.8 L950.4,576.6 L951.6,582.9 L953.2,578.5 L955.4,582.3 L957.3,580.7 L959.6,583.9 L961.8,581.6 L963.7,582.9 L965.3,588.6 L967.5,593.4 L969.1,596.5 L970.6,594.3 L972.5,596.5 L973.8,589.2 L977.0,590.2 L980.1,589.2 L983.3,588.6 L984.9,591.8 L987.1,588.6 L989.6,592.4 L992.8,591.1 L995.9,596.5 L999.1,602.8 L1001.6,599.7 L1003.9,600.6 L1005.4,598.1 L1008.6,598.7 L1010.2,594.3 L1011.8,600.6 L1013.4,593.4 L1014.9,598.7 L1016.5,594.3 L1018.1,598.7 L1020.6,597.5 L1022.8,600.6 L1026.0,601.9 L1029.2,607.0 L1031.4,602.8 L1033.9,607.6 L1036.5,609.2 L1038.7,614.6 L1040.3,612.3 L1042.8,604.4 L1044.1,596.5 L1045.3,591.8 L1046.6,606.0 L1048.2,599.7 L1050.4,601.9 L1052.3,583.9 L1054.5,591.8 L1056.7,598.7 L1058.6,596.5 L1060.8,594.9 L1062.4,596.5 L1064.0,588.0 L1064.9,598.1 L1067.5,586.1 L1068.7,601.3 L1070.6,591.8 L1072.5,594.9 L1074.4,601.9 L1075.7,594.9 L1077.6,599.7 L1078.9,606.0 L1080.1,596.5 L1081.4,607.6 L1083.0,594.9 L1084.6,609.2 L1086.1,598.1 L1087.7,606.0 L1089.6,596.5 L1091.5,612.3 L1093.4,601.3 L1095.0,610.8 L1096.6,599.7 L1098.2,593.4 L1099.7,607.6 L1100.7,602.8 L1101.6,610.8 L1102.3,642.4 L1102.9,678.8 L1105.1,681.0 L1106.7,675.6 L1109.2,674.1 L1110.5,684.2 L1112.4,679.7 L1113.7,675.6 L1115.6,670.9 L1117.8,670.9 L1119.4,674.7 L1120.6,678.8 L1121.9,673.4 L1123.2,677.2 L1125.1,674.1 L1127.3,672.5 L1127.9,626.6 L1128.9,582.3 L1129.5,557.6 L1132.0,557.0 L1135.2,558.5 L1137.1,560.1 L1138.4,549.1 L1139.6,563.3 L1140.9,548.1 L1142.2,561.7 L1143.4,549.1 L1144.7,563.3 L1145.9,547.5 L1147.2,561.7 L1148.5,547.5 L1150.1,548.1 L1151.0,560.1 L1152.3,555.4 L1153.5,561.7 L1154.8,563.3 L1155.4,626.6 L1156.1,723.1 L1156.2,753.2" stroke="#0033cc" stroke-width="1.25"/>
<path d="M1208.5,740.5 L1208.6,723.1 L1209.6,689.9 L1210.5,664.6 L1212.7,655.1 L1215.9,642.4 L1218.1,631.3 L1220.0,625.0 L1222.2,617.1 L1224.7,609.2 L1226.9,607.6 L1228.5,602.8 L1231.6,601.9 L1234.2,600.6 L1235.4,604.4 L1237.3,598.7 L1238.6,597.5 L1240.5,601.9 L1241.8,598.7 L1243.7,601.3 L1244.9,600.6 L1246.5,606.0 L1248.1,599.7 L1249.7,602.8 L1251.3,598.7 L1252.8,603.8 L1254.4,598.1 L1255.4,598.1 L1257.0,615.5 L1258.5,617.7 L1260.1,613.9 L1262.7,607.6 L1263.9,601.3 L1264.9,579.1 L1265.8,561.7 L1268.0,560.8 L1269.6,561.7 L1271.2,582.3 L1273.4,590.2 L1275.3,583.9 L1277.5,555.4 L1279.1,574.4 L1280.4,585.4 L1282.3,564.9 L1283.9,591.8 L1286.1,589.2 L1288.0,579.1 L1289.9,555.4 L1291.8,546.8 L1292.1,626.6 L1292.4,723.1 L1292.7,829.0 L1293.1,829.0 L1293.3,723.1 L1293.7,626.6 L1294.3,582.3 L1295.6,550.6 L1297.5,553.8 L1298.7,550.0 L1301.3,587.0 L1303.2,572.8 L1304.4,547.5 L1306.0,579.1 L1308.2,549.1 L1310.1,579.1 L1312.0,586.1 L1313.9,585.4 L1316.1,557.0 L1318.4,544.3 L1320.3,572.8 L1321.2,626.6 L1321.8,723.1 L1322.2,829.0 L1322.5,829.0 L1322.7,723.1 L1323.1,628.2 L1324.4,658.2 L1326.6,659.8 L1328.2,645.6 L1330.4,632.3 L1332.3,637.7 L1333.5,634.5 L1334.5,621.8 L1336.1,627.2 L1338.6,625.0 L1340.8,626.6 L1343.0,625.9 L1344.9,624.1 L1347.2,625.9 L1348.7,631.3 L1350.3,632.3 L1351.9,626.6 L1352.5,723.1 L1352.8,829.0 L1353.8,829.0 L1354.1,723.1 L1354.4,607.6 L1355.7,618.7 L1357.3,604.4 L1358.9,591.8 L1360.8,572.8 L1363.0,552.2 L1364.6,585.4 L1365.5,545.9 L1366.8,561.7 L1368.4,547.5 L1369.6,552.2 L1370.9,546.8 L1372.5,547.5 L1374.1,542.7 L1375.6,539.6 L1377.2,547.5 L1378.2,541.1 L1379.1,557.0 L1379.4,626.6 L1380.1,727.2 L1381.0,705.7 L1382.9,702.5 L1384.2,689.9 L1385.4,705.7 L1386.7,696.2 L1388.0,705.7 L1389.9,689.9 L1391.5,707.3 L1393.0,702.5 L1395.6,704.1 L1397.8,700.0 L1400.0,698.7 L1402.5,702.5 L1404.1,704.1 L1406.3,700.9 L1408.9,703.2 L1412.0,701.9 L1414.6,703.2 L1416.8,700.0 L1419.0,701.9 L1421.5,700.9 L1423.4,700.0 L1424.1,626.6 L1424.7,601.3 L1427.2,599.7 L1429.4,602.8 L1431.0,601.3 L1432.0,619.6 L1433.5,617.1 L1434.8,600.6 L1435.8,607.6 L1437.0,598.1 L1438.0,653.5 L1439.9,647.2 L1441.1,650.3 L1443.0,646.2 L1445.3,647.2 L1446.8,645.6 L1449.4,644.0 L1451.6,639.2 L1453.2,634.5 L1454.1,639.2 L1455.7,626.6 L1457.0,640.8 L1458.9,644.0 L1461.1,648.1 L1462.3,634.5 L1463.6,653.5 L1465.2,639.2 L1467.4,626.6 L1469.0,618.7 L1470.6,609.2 L1472.2,607.6 L1473.7,585.4 L1474.7,580.7 L1475.9,591.8 L1477.5,577.5 L1479.1,598.1 L1480.1,579.1 L1481.0,599.7 L1482.3,580.7 L1483.9,581.6 L1485.4,587.0 L1487.3,594.9 L1488.6,620.3 L1489.6,593.4 L1491.1,599.7 L1492.4,658.2 L1493.4,721.5 L1494.3,737.3 L1495.9,736.7 L1498.1,724.7 L1500.0,715.2 L1502.2,705.7 L1505.3,694.6 L1508.5,685.1 L1511.6,677.2 L1513.2,672.5 L1515.4,669.3 L1517.3,665.2 L1518.6,663.0 L1519.6,664.6 L1521.1,656.6 L1522.7,651.9 L1524.3,645.6 L1525.3,620.3 L1526.8,607.6 L1528.1,621.8 L1529.4,610.8 L1530.6,625.0 L1531.6,629.7 L1532.8,617.1 L1533.8,639.2 L1535.1,644.0 L1536.0,651.9 L1537.0,697.8 L1537.6,648.7 L1538.5,644.9 L1540.1,646.2 L1543.3,645.6 L1544.9,647.2 L1545.8,636.1 L1547.1,642.4 L1548.0,634.5 L1549.6,628.2 L1550.9,647.2 L1552.2,632.9 L1553.4,648.1 L1554.7,636.1 L1555.9,625.0 L1556.9,619.6 L1558.5,636.1 L1559.7,648.7 L1561.0,620.3 L1562.3,626.6 L1563.2,632.9 L1564.5,655.1 L1565.8,629.7 L1567.0,658.2 L1568.6,636.1 L1570.2,667.7 L1571.8,653.5 L1573.0,674.1 L1574.3,664.6 L1575.6,663.0 L1576.8,677.2 L1578.1,685.1 L1580.6,694.6 L1582.8,704.1 L1585.1,715.2 L1587.6,721.5 L1588.2,658.2 L1588.9,594.9 L1590.8,594.3 L1592.0,596.5 L1593.3,588.6 L1594.9,593.4 L1596.1,602.8 L1598.0,601.3 L1599.6,591.8 L1601.5,579.1 L1603.4,583.9 L1605.0,598.1 L1606.6,604.4 L1608.2,610.8 L1609.7,606.0 L1611.3,607.6 L1612.9,594.9 L1614.5,582.3 L1615.4,574.4 L1616.7,588.6 L1618.0,594.9 L1620.8,593.4 L1624.0,593.4 L1625.6,610.8 L1627.5,593.4 L1629.4,580.7 L1630.6,598.1 L1631.9,588.6 L1633.2,604.4 L1634.4,591.8 L1636.3,593.4 L1638.2,601.3 L1639.8,615.5 L1641.4,612.3 L1643.0,620.3 L1643.9,645.6 L1646.1,646.2 L1647.7,650.3 L1649.3,648.1 L1650.9,651.3 L1652.5,651.9 L1654.1,655.1 L1656.6,661.4 L1658.2,667.7 L1659.7,677.2 L1661.0,672.5 L1662.0,645.6 L1663.2,653.5 L1664.2,636.1 L1665.4,632.9 L1666.7,648.7 L1668.0,626.6 L1669.2,618.7 L1670.5,626.6 L1671.8,636.1 L1673.0,610.8 L1674.3,623.4 L1675.6,644.0 L1676.8,629.7 L1678.7,625.0 L1680.9,617.1 L1682.5,607.6 L1683.8,601.9 L1685.7,609.2 L1687.3,637.7 L1688.9,610.8 L1689.8,623.4 L1691.1,610.1 L1692.7,628.2 L1693.9,620.3 L1695.2,636.1 L1696.5,640.8 L1697.7,632.9 L1698.7,594.9 L1699.6,560.1 L1700.6,587.0 L1701.5,560.1 L1702.5,550.0 L1703.7,590.2 L1704.7,561.7 L1705.9,585.4 L1706.9,557.0 L1707.8,599.7 L1709.1,557.0 L1710.4,575.9 L1711.6,564.9 L1712.9,582.3 L1714.2,600.6 L1715.4,561.7 L1716.7,555.4 L1718.0,600.6 L1719.2,564.9 L1720.5,579.1 L1721.8,599.7 L1723.0,572.8 L1724.3,561.7 L1725.6,579.1 L1726.8,596.5 L1728.1,565.8 L1730.0,566.5 L1731.6,606.0 L1732.8,571.2 L1733.8,626.6 L1734.7,689.9 L1735.7,743.7 L1737.0,751.6 L1738.2,757.9 L1739.5,735.8 L1741.4,738.9 L1743.0,750.0 L1744.2,760.1 L1745.8,740.5 L1747.1,726.3 L1748.4,746.8 L1749.6,727.8 L1750.6,723.1 L1751.8,735.8 L1752.8,719.9 L1754.1,727.8 L1755.3,708.9 L1756.9,688.3 L1758.5,693.0 L1759.4,704.1 L1761.0,700.9 L1763.2,697.8 L1764.8,689.9 L1766.4,677.2 L1768.0,664.6 L1769.6,655.1 L1771.1,644.0 L1772.1,648.7 L1773.4,636.1 L1774.9,631.3 L1776.2,623.4 L1777.5,626.6 L1778.7,604.4 L1780.0,593.4 L1780.6,590.2 L1781.9,620.3 L1783.2,594.9 L1784.4,572.2 L1786.0,582.9 L1788.2,584.8 L1789.5,567.1 L1791.4,587.0 L1792.7,572.8 L1793.9,559.5 L1795.2,557.9 L1796.5,582.3 L1797.4,607.6 L1799.0,587.0 L1800.3,584.8 L1801.8,591.8 L1802.8,601.3 L1804.1,560.1 L1805.0,575.9 L1805.9,602.8 L1807.2,549.1 L1808.5,588.6 L1809.7,579.1 L1811.0,558.5 L1812.9,560.1 L1813.9,590.2 L1815.4,590.2 L1816.4,544.9 L1817.0,620.3 L1818.0,604.4 L1818.9,596.5 L1820.2,623.4 L1821.5,639.2 L1822.4,618.7 L1823.7,626.6 L1824.9,651.9 L1826.2,632.9 L1827.8,609.2 L1829.1,598.1 L1830.3,617.1 L1831.6,632.9 L1832.5,653.5 L1833.8,636.1 L1835.1,651.9 L1836.6,650.3 L1838.2,639.2 L1839.2,632.9 L1840.8,645.6 L1842.7,636.1 L1844.6,637.7 L1847.1,640.8 L1849.3,648.7 L1850.9,651.9 L1852.5,653.5 L1854.1,648.7 L1855.6,636.1 L1857.2,626.6 L1858.5,620.3 L1859.4,609.2 L1860.1,658.2 L1860.7,693.0 L1861.6,683.5 L1862.9,702.5 L1864.5,719.9 L1865.8,696.2 L1867.3,699.4 L1868.3,696.2 L1869.2,719.9 L1870.8,708.9 L1871.8,689.9 L1872.4,626.6 L1873.0,569.6 L1874.3,598.1 L1875.3,575.9 L1876.2,599.7 L1877.5,574.4 L1878.7,601.3 L1879.7,610.8 L1880.6,588.6 L1881.9,564.9 L1882.8,582.3 L1884.1,613.9 L1884.7,639.2 L1885.7,566.5 L1887.0,579.1 L1888.2,607.6 L1889.5,623.4 L1890.8,636.1 L1892.0,664.6 L1893.3,686.7 L1894.6,693.0 L1896.1,675.6 L1897.4,689.9 L1898.7,719.9 L1899.9,702.5 L1900.9,696.2" stroke="#0033cc" stroke-width="1.25"/>
<path d="M83.4,829.0 L83.9,796.9 L84.7,778.1 L87.0,776.9 L88.6,781.2 L89.4,792.2 L90.9,794.5 L92.5,793.8 L94.1,785.9 L95.6,778.1 L96.9,776.9 L98.0,779.7 L99.1,789.1 L100.3,795.3 L101.6,781.2 L102.7,776.6 L103.4,775.0 L104.2,793.8 L105.0,777.3 L105.8,794.5 L106.9,778.9 L107.5,795.3 L108.1,779.7 L108.6,812.5 L109.1,829.0 L110.0,815.6 L111.2,809.4 L112.0,818.8 L112.8,829.0 L117.5,829.0 L118.3,818.8 L119.1,800.0 L119.8,787.5 L120.6,778.1 L122.2,777.3 L124.1,778.1 L124.8,792.2 L125.3,805.5 L126.1,780.5 L126.9,779.7 L127.3,803.1 L128.1,780.5 L128.8,800.0 L129.7,779.7 L130.5,778.9 L131.6,791.4 L133.1,787.5 L134.7,795.3 L135.8,812.5 L136.6,829.0 L137.2,829.0 L137.8,812.5 L138.3,780.5 L139.1,796.9 L140.2,795.3 L141.2,789.1 L141.9,775.8 L142.8,781.2 L144.1,783.6 L145.2,778.9 L146.4,778.1 L147.5,780.5 L148.3,777.3 L148.8,796.9 L149.5,809.4 L150.3,795.3 L150.9,775.8 L151.6,785.9 L152.2,782.8 L153.1,777.8 L155.0,777.3 L158.1,777.8 L161.2,778.1 L164.4,777.8 L167.5,777.3 L170.6,777.3 L173.8,776.9 L176.9,776.9 L180.0,777.3 L180.8,770.3 L182.3,765.6 L183.4,770.3 L184.4,775.8 L186.2,775.8 L187.8,775.0 L189.4,775.8 L191.2,776.6 L192.2,764.8 L193.1,768.8 L193.8,776.6 L195.6,775.8 L197.2,776.6 L198.8,778.1 L199.5,761.7 L200.3,776.6 L201.9,775.8 L203.4,763.8 L204.2,764.1 L205.0,775.8 L206.6,777.3 L208.1,776.6 L210.5,775.8 L211.2,776.6 L212.5,759.4 L214.1,758.6 L215.2,770.3 L216.2,775.0 L219.1,775.3 L221.4,775.8 L223.8,775.0 L226.9,774.2 L229.2,773.4 L230.0,772.7 L231.4,766.6 L233.0,774.1 L234.5,762.0 L235.5,775.0 L236.6,759.1 L238.0,778.1 L239.5,767.0 L240.6,775.0 L242.5,774.2 L245.6,773.4 L249.5,773.4 L250.6,770.3 L251.9,767.2 L253.1,759.4 L254.2,771.9 L255.0,773.4 L257.3,773.4 L258.4,764.1 L259.7,773.1 L262.8,773.4 L266.7,773.4 L267.5,765.6 L268.6,757.8 L269.5,770.3 L270.6,773.4 L273.8,773.4 L275.0,765.6 L276.1,754.7 L277.2,767.2 L278.4,773.4 L280.8,773.4 L281.9,768.8 L283.1,762.5 L284.7,757.8 L286.2,764.1 L287.8,773.4 L290.9,773.4 L291.7,762.5 L292.5,755.5 L293.6,770.3 L294.4,773.4 L296.4,773.4 L297.5,770.3 L298.4,775.0 L301.9,774.7 L305.0,774.2 L308.1,773.8 L311.2,774.2 L314.4,773.8 L315.9,774.7 L317.2,777.3 L318.3,775.0 L320.6,774.2 L326.9,773.8 L331.6,773.8 L333.9,774.2 L334.7,781.2 L335.5,792.2 L336.2,771.1 L337.5,777.3 L338.6,791.4 L341.7,791.9 L342.8,770.3 L344.1,776.6 L344.8,791.4 L345.6,773.4 L346.4,787.5 L347.2,773.4 L348.0,791.4 L349.1,773.4 L350.0,787.5 L351.1,791.4 L352.7,773.4 L354.2,773.4 L355.0,791.4 L356.6,791.9 L357.8,777.3 L358.9,791.4 L361.2,791.9 L362.8,774.2 L364.4,773.4 L366.7,773.8 L367.5,791.4 L369.8,791.9 L370.9,775.0 L371.7,792.2 L372.5,774.2 L373.3,791.4 L374.2,774.2 L375.0,779.7 L375.8,796.9 L376.9,813.3 L377.7,800.0 L378.4,792.2 L380.0,792.2 L380.0,792.2 L380.9,781.2 L381.7,775.8 L382.5,792.2 L383.8,778.1 L384.8,791.4 L385.9,773.4 L386.9,772.7 L387.5,787.5 L388.8,774.2 L391.1,773.8 L393.4,774.2 L395.8,775.0 L396.9,791.4 L398.1,773.4 L398.9,789.1 L399.7,775.0 L400.8,791.4 L401.6,778.1 L402.5,787.5 L403.3,792.2 L404.4,775.0 L405.9,773.4 L408.3,773.4 L409.4,781.2 L410.3,791.4 L413.8,791.9 L415.0,781.2 L416.1,775.8 L418.4,775.0 L419.2,781.2 L420.0,791.9 L422.3,791.4 L423.1,779.7 L423.9,791.4 L424.7,781.2 L425.5,791.4 L426.2,775.0 L428.1,773.4 L429.4,774.2 L430.2,781.2 L431.2,773.4 L434.1,773.4 L437.2,774.2 L438.8,776.6 L439.5,775.0 L440.6,773.4 L441.6,789.1 L442.7,775.0 L443.8,773.4 L445.0,775.0 L446.2,773.4 L447.3,791.4 L449.7,791.9 L450.9,781.2 L451.7,771.9 L452.5,781.2 L453.6,774.2 L454.4,791.4 L455.3,775.0 L456.2,791.4 L457.0,778.1 L458.0,791.4 L459.1,779.7 L459.8,791.4 L462.2,791.9 L463.3,781.2 L464.4,770.3 L465.6,781.2 L466.6,791.4 L470.0,791.9 L471.6,791.4 L473.1,781.2 L474.4,773.4 L477.0,773.4 L478.1,781.2 L479.1,791.4 L481.7,791.9 L482.8,784.4 L483.8,776.6 L484.8,789.1 L486.4,791.4 L487.5,793.8 L488.8,791.4 L490.0,795.3 L491.1,796.9 L491.9,812.5 L492.3,829.0 L493.4,829.0 L494.2,812.5 L495.0,793.8 L496.2,812.5 L496.9,829.0 L502.8,829.0 L503.6,818.8 L504.4,796.9 L505.2,781.2 L505.9,775.0 L506.9,792.2 L507.8,781.2 L508.8,775.0 L509.8,791.4 L512.2,791.9 L515.3,791.9 L516.4,781.2 L517.2,774.2 L518.1,791.4 L519.1,781.2 L520.0,774.2 L520.9,791.4 L523.9,792.2 L527.8,792.2 L530.9,791.9 L534.1,791.4 L535.3,784.4 L536.1,791.4 L537.2,775.0 L538.0,773.4 L539.1,791.4 L540.3,781.2 L541.4,775.8 L542.7,787.5 L543.4,791.4 L546.6,791.9 L551.2,791.4 L555.2,791.4 L555.9,781.2 L556.7,778.1 L557.5,791.4 L558.6,776.6 L559.4,773.4 L560.6,791.4 L563.0,792.2 L564.5,803.1 L565.6,789.1 L566.9,775.8 L568.1,791.4 L569.2,793.8 L570.0,812.5 L570.8,829.0 L571.2,812.5 L571.9,798.4 L572.5,812.5 L573.1,829.0 L580.2,829.0 L580.9,818.8 L581.7,796.9 L582.8,778.1 L584.1,773.4 L585.3,775.0 L586.4,781.2 L587.5,787.5 L588.4,791.4 L589.5,781.2 L590.3,772.7 L591.2,781.2 L591.9,771.9 L593.1,781.2 L594.2,791.4 L595.3,781.2 L596.2,793.0 L597.3,781.2 L598.4,773.4 L599.7,791.4 L602.0,791.4 L603.1,781.2 L604.4,773.4 L605.6,781.2 L606.7,791.4 L609.8,791.9 L610.9,781.2 L612.2,773.4 L613.4,784.4 L614.5,791.4 L616.1,790.6 L617.2,781.2 L618.4,791.4 L619.7,789.1 L620.8,777.3 L621.9,784.4 L623.1,791.4 L627.8,791.4 L629.4,791.4 L630.6,781.2 L631.7,778.1 L632.8,789.1 L633.8,791.9 L635.3,792.5 L636.1,812.5 L637.2,829.0 L647.3,829.0 L648.1,818.8 L648.9,796.9 L649.7,781.2 L650.5,774.2 L651.2,787.5 L652.0,796.9 L652.8,829.0 L659.8,829.0 L660.6,812.5 L661.4,796.9 L662.2,781.2 L663.0,773.4 L663.8,787.5 L664.5,804.7 L665.3,829.0 L666.9,829.0 L667.7,796.9 L668.8,781.2 L670.0,778.1 L670.0,812.5 L670.9,829.0 L672.8,829.0 L673.6,796.9 L674.4,774.2 L675.2,792.2 L676.4,791.4 L677.5,775.0 L678.8,773.1 L680.0,773.4 L681.1,781.2 L681.9,790.9 L685.0,791.4 L688.1,789.8 L692.0,789.8 L693.1,775.0 L694.1,789.1 L698.3,789.1 L699.4,770.3 L700.6,789.1 L701.4,788.3 L702.5,779.7 L703.4,770.0 L704.5,789.1 L705.6,788.3 L706.9,770.0 L708.1,789.1 L709.2,789.1 L710.3,779.7 L711.1,770.0 L712.3,789.1 L713.6,780.5 L714.7,789.8 L718.6,789.8 L719.7,776.6 L720.6,789.1 L721.7,784.4 L722.8,789.8 L724.8,790.9 L728.8,790.3 L730.0,773.4 L731.1,790.6 L732.2,778.1 L733.4,787.5 L734.2,790.6 L738.1,789.8 L740.5,789.1 L741.2,782.0 L742.3,789.1 L745.2,789.1 L746.4,773.4 L747.5,789.1 L750.6,789.1 L751.9,775.0 L753.0,789.1 L755.6,789.8 L756.9,777.3 L758.1,789.8 L759.4,798.4 L760.5,773.4 L761.6,791.4 L763.9,790.9 L766.2,788.8 L769.4,789.4 L772.5,789.8 L775.6,792.2 L778.8,790.3 L781.9,789.8 L785.0,789.1 L788.1,787.5 L791.2,788.3 L794.4,789.1 L797.5,789.8 L799.8,789.1 L800.6,791.4 L803.0,791.9 L804.5,781.2 L806.1,770.3 L807.3,789.1 L808.4,787.5 L809.5,778.9 L810.8,791.4 L814.7,790.9 L819.4,790.3 L823.3,789.8 L824.4,791.4 L825.3,799.7 L826.4,789.1 L828.8,790.3 L831.9,790.9 L833.4,792.2 L835.0,800.8 L836.6,793.0 L838.1,789.1 L842.8,788.8 L847.5,788.3 L852.2,788.8 L853.8,789.8 L856.9,788.3 L861.6,789.1 L864.7,788.8 L867.8,789.1 L869.4,791.4 L870.9,789.1 L875.6,789.1 L880.3,788.3 L881.9,786.2 L883.4,788.8 L888.1,789.1 L892.8,789.1 L895.9,789.8 L898.3,790.9 L903.8,790.9 L906.1,792.2 L907.2,800.0 L908.0,815.6 L908.4,829.0 L909.1,815.6 L910.0,792.2 L912.3,791.4 L916.2,790.6 L919.4,790.3 L924.1,790.3 L925.6,791.4 L928.8,790.3 L931.1,791.4 L933.4,790.3 L939.7,789.8 L942.8,790.3 L944.4,789.1 L947.5,789.8 L952.2,789.8 L956.9,789.1 L960.0,788.3 L960.0,789.4 L964.1,790.6 L968.8,790.9 L971.1,791.9 L973.4,793.0 L975.8,791.9 L978.9,792.2 L981.2,790.3 L984.4,789.8 L987.5,789.1 L989.1,785.2 L990.6,789.8 L993.0,789.1 L996.9,789.1 L1001.6,788.8 L1004.7,787.5 L1007.0,788.3 L1009.4,786.7 L1010.9,791.4 L1012.5,787.5 L1014.1,789.1 L1015.6,793.8 L1017.2,789.8 L1020.3,789.1 L1023.4,788.3 L1025.0,786.7 L1027.3,789.1 L1029.7,788.3 L1032.8,789.1 L1035.2,789.8 L1036.7,791.4 L1038.3,789.1 L1039.4,793.8 L1040.3,809.4 L1040.9,825.8 L1041.6,809.4 L1042.2,793.0 L1043.8,792.2 L1046.1,791.9 L1050.0,792.2" stroke="#006400" stroke-width="1.25"/>
<path d="M1050,792.2 L1097.4,792.0 L1098,829.0 L1098.6,792.0 L1156,792.0 L1156.8,829.0 L1163.5,829.0 L1164.2,792.0 L1192.5,792.0 L1196,829.0 L1199.2,792.0 L1210.1000000000001,792.0 L1210.7,829.0 L1211.3,792.0 L1256.7,792.0 L1257.3,829.0 L1257.8999999999999,792.0 L1258,829.0 L1263,829.0 L1262.9,792.0 L1263.5,829.0 L1264.1,792.0 L1266.8000000000002,792.0 L1267.4,829.0 L1268.0,792.0 L1269.3000000000002,792.0 L1269.9,829.0 L1270.5,792.0 L1273.0,792.0 L1273.6,829.0 L1274.1999999999998,792.0 L1277.0,792.0 L1277.6,829.0 L1278.1999999999998,792.0 L1278.8000000000002,792.0 L1279.4,829.0 L1280.0,792.0 L1284.6000000000001,792.0 L1285.2,829.0 L1285.8,792.0 L1289.7,792.0 L1290.3,829.0 L1290.8999999999999,792.0 L1292.3000000000002,792.0 L1292.9,829.0 L1293.5,792.0 L1321.4,792.0 L1322,829.0 L1322.6,792.0 L1353.0,792.0 L1353.6,829.0 L1354.1999999999998,792.0 L1360,792" stroke="#006400" stroke-width="1.25"/>
<path d="M1361.2,787.5 L1362.2,795.3 L1363.0,789.1 L1363.8,803.1 L1364.5,789.1 L1365.3,807.8 L1366.1,789.8 L1366.9,808.6 L1367.7,789.8 L1368.4,807.8 L1369.2,790.6 L1370.3,809.1 L1371.6,809.4 L1372.7,804.7 L1373.8,790.6 L1375.8,789.8 L1376.9,800.0 L1377.8,808.6 L1378.9,789.8 L1381.2,789.1 L1385.2,788.8 L1386.6,772.7 L1388.0,789.1 L1390.3,789.8 L1391.4,803.1 L1392.5,829.0 L1393.8,829.0 L1394.5,790.6 L1396.6,790.3 L1397.3,812.5 L1397.8,829.0 L1398.8,812.5 L1400.0,786.7 L1401.6,789.1 L1404.7,789.8 L1409.4,789.4 L1414.1,789.4 L1415.3,786.7 L1415.9,809.4 L1416.9,829.0 L1417.5,809.4 L1418.3,790.6 L1419.1,812.5 L1419.7,829.0 L1423.1,829.0 L1423.8,809.4 L1424.7,788.3 L1428.1,788.0 L1430.5,788.3 L1431.2,800.0 L1432.0,808.6 L1433.1,792.2 L1433.9,788.3 L1435.9,788.0 L1436.9,792.2 L1438.3,789.1 L1442.2,788.8 L1446.9,788.3 L1453.1,788.8 L1459.4,788.3 L1465.6,788.0 L1470.3,788.0 L1472.7,789.1 L1473.9,801.6 L1475.0,810.2 L1476.2,792.2 L1477.3,804.7 L1478.4,795.3 L1479.7,786.7 L1481.2,788.3 L1482.3,790.6 L1483.6,802.3 L1484.7,789.8 L1486.7,788.3 L1490.6,788.8 L1495.3,789.8 L1497.7,790.3 L1500.0,788.3 L1503.9,787.5 L1506.2,787.2 L1510.2,787.5 L1511.4,783.6 L1512.8,788.8 L1518.8,788.8 L1525.0,788.4 L1529.7,789.1 L1530.8,790.6 L1531.6,773.4 L1532.5,789.1 L1535.2,789.4 L1536.2,773.4 L1537.2,773.8 L1538.0,789.8 L1539.1,792.2 L1539.8,812.5 L1540.6,829.0 L1541.2,812.5 L1542.2,792.2 L1543.4,785.2 L1544.5,789.8 L1547.7,788.3 L1549.2,787.5 L1550.3,790.6 L1551.6,789.8 L1553.1,782.8 L1554.4,789.8 L1557.8,788.3 L1562.5,788.0 L1567.2,788.3 L1570.3,789.8 L1573.4,790.9 L1576.6,789.8 L1581.2,788.8 L1587.5,788.8 L1593.8,789.1 L1598.4,789.1 L1600.8,789.8 L1601.9,798.4 L1602.8,806.2 L1603.9,792.2 L1605.0,789.1 L1609.4,788.8 L1612.5,789.1 L1613.8,795.3 L1615.2,808.6 L1616.4,790.6 L1617.5,788.3 L1621.9,788.8 L1623.1,791.4 L1624.4,796.9 L1625.8,790.6 L1628.9,789.8 L1630.5,796.9 L1631.7,808.6 L1632.8,792.2 L1634.4,788.8 L1639.1,787.5 L1643.8,788.3 L1650.0,787.5 L1650.0,788.0 L1655.9,788.3 L1662.2,787.5 L1666.9,787.2 L1668.4,790.6 L1669.7,803.9 L1670.8,789.8 L1672.3,789.1 L1673.1,795.3 L1674.2,806.2 L1675.5,789.8 L1677.0,788.3 L1682.5,788.3 L1688.0,788.0 L1689.1,792.2 L1690.0,796.9 L1691.1,789.1 L1694.2,788.0 L1695.3,781.2 L1696.2,771.9 L1697.3,784.4 L1698.1,781.2 L1698.9,795.3 L1700.0,807.8 L1700.9,789.1 L1702.8,788.0 L1705.2,789.1 L1705.9,800.0 L1706.7,807.8 L1707.8,789.1 L1710.6,788.3 L1711.9,796.9 L1712.8,807.0 L1713.8,789.8 L1717.7,789.1 L1718.8,806.2 L1720.8,800.0 L1721.9,791.4 L1723.9,790.9 L1726.2,790.9 L1727.5,795.3 L1728.6,804.7 L1729.7,815.6 L1730.6,829.0 L1733.1,829.0 L1733.8,812.5 L1734.4,815.6 L1735.3,829.0 L1748.9,829.0 L1749.7,809.4 L1750.5,789.8 L1752.0,791.4 L1752.8,812.5 L1753.3,829.0 L1756.7,829.0 L1757.5,812.5 L1758.3,796.9 L1759.1,788.3 L1760.6,787.5 L1763.0,789.1 L1764.5,786.7 L1766.1,787.5 L1767.2,782.0 L1768.4,787.5 L1772.3,787.2 L1776.2,788.3 L1779.4,789.1 L1782.5,789.8 L1783.8,788.3 L1784.4,801.6 L1785.3,817.2 L1785.9,829.0 L1786.6,817.2 L1788.0,796.9 L1789.1,788.3 L1791.1,788.3 L1792.7,792.2 L1793.8,801.6 L1795.0,810.2 L1796.2,801.6 L1797.3,790.6 L1798.9,788.3 L1802.0,788.3 L1803.1,795.3 L1804.7,807.8 L1806.2,795.3 L1807.5,788.3 L1809.1,789.1 L1810.3,800.0 L1811.9,808.6 L1813.4,806.2 L1814.5,793.8 L1815.6,788.3 L1817.2,789.1 L1818.4,801.6 L1819.7,789.1 L1821.6,788.3 L1826.2,788.8 L1827.8,792.2 L1829.4,802.3 L1830.6,790.6 L1832.2,789.1 L1833.3,800.0 L1834.4,789.1 L1836.4,788.3 L1841.9,788.3 L1845.0,789.1 L1848.1,790.9 L1851.2,791.4 L1853.6,789.1 L1854.7,793.8 L1855.6,809.4 L1856.7,829.0 L1857.5,829.0 L1858.6,793.8 L1859.5,812.5 L1860.3,829.0 L1861.4,829.0 L1862.2,795.3 L1863.0,812.5 L1863.8,829.0 L1865.0,796.9 L1866.1,795.3 L1867.2,793.0 L1868.1,809.4 L1869.2,829.0 L1871.9,829.0 L1872.8,812.5 L1873.9,796.9 L1874.7,789.1 L1877.0,788.3 L1877.8,798.4 L1878.6,808.6 L1879.4,790.6 L1880.6,790.3 L1881.2,812.5 L1882.0,829.0 L1883.3,829.0 L1884.4,812.5 L1885.2,803.9 L1886.1,818.8 L1886.9,829.0 L1888.1,829.0 L1889.1,812.5 L1890.0,796.9 L1890.8,790.6 L1891.9,807.8 L1893.1,789.1 L1895.0,789.8 L1896.2,786.7 L1897.3,795.3 L1898.4,803.1 L1899.4,790.6 L1900.5,788.0" stroke="#006400" stroke-width="1.25"/>
<path d="M83,829 L1901,829" stroke="#cc0000" stroke-width="1.1"/>
</g>
<circle cx="993" cy="786.3" r="3.4" fill="#ff00ff"/>
<circle cx="993" cy="591.5" r="3.4" fill="#0033cc"/>
<circle cx="993" cy="789.2" r="3.4" fill="#006400"/>
<circle cx="993" cy="828.2" r="3.4" fill="#cc0000"/>
</svg>
<div class="yl" style="top:66px">70GB</div>
<div class="yl" style="top:126px">60GB</div>
<div class="yl" style="top:184px">50GB</div>
<div class="yl" style="top:244px">40GB</div>
<div class="yl" style="top:304px">30GB</div>
<div class="yl" style="top:364px">20GB</div>
<div class="yl" style="top:508px">800M</div>
<div class="yl" style="top:546px">700M</div>
<div class="yl" style="top:586px">600M</div>
<div class="yl" style="top:624px">500M</div>
<div class="yl" style="top:664px">400M</div>
<div class="yl" style="top:702px">300M</div>
<div class="yl" style="top:742px">200M</div>
<div class="yl" style="top:780px">100M</div>
<div class="yl" style="top:810px">0</div>
<div class="xl" style="left:158.9px;top:405px">06:00</div>
<div class="xl" style="left:158.9px;top:831px">06:00</div>
<div class="xl" style="left:386.3px;top:405px">12:00</div>
<div class="xl" style="left:386.3px;top:831px">12:00</div>
<div class="xl" style="left:613.8px;top:405px">18:00</div>
<div class="xl" style="left:613.8px;top:831px">18:00</div>
<div class="xl" style="left:841.2px;top:405px">09 Aug</div>
<div class="xl" style="left:841.2px;top:831px">09 Aug</div>
<div class="xl" style="left:1070.0px;top:405px">06:00</div>
<div class="xl" style="left:1070.0px;top:831px">06:00</div>
<div class="xl" style="left:1297.5px;top:405px">12:00</div>
<div class="xl" style="left:1297.5px;top:831px">12:00</div>
<div class="xl" style="left:1524.9px;top:405px">18:00</div>
<div class="xl" style="left:1524.9px;top:831px">18:00</div>
<div class="xl" style="left:1752.4px;top:405px">10 Aug</div>
<div class="xl" style="left:1752.4px;top:831px">10 Aug</div>
<div class="legend" style="left:1051px;top:112px">2021/08/09 03:00:<br><b style="color:#ff00ff">Average</b>: 53.1401GB<br><b style="color:#0033cc">100% Quantile</b>: 53.1401GB<br><b style="color:#006400">50% Quantile</b>: 53.1401GB<br><b style="color:#cc0000">0% Quantile</b>: 53.1401GB</div>
<div class="legend" style="left:1048px;top:723px">2021/08/09 02:56:<br><b style="color:#ff00ff">Average</b>: 108.365M<br><b style="color:#0033cc">100% Quantile</b>: 609.46M<br><b style="color:#006400">50% Quantile</b>: 100.414M<br><b style="color:#cc0000">0% Quantile</b>: 0</div>
<div class="bar" style="top:1px">
<div class="btn l" style="left:90px;width:93px"><svg class="ico" style="left:20.7px" width="22.1" height="22.1" viewBox="0 0 16 16" fill="#fff"><path d="m3.86 8.753 5.482 4.796c.646.566 1.658.106 1.658-.753V3.204a1 1 0 0 0-1.659-.753l-5.48 4.796a1 1 0 0 0 0 1.506z"/></svg><span class="t" style="left:42.7px">Back</span></div>
<div class="btn l" style="left:340px;width:137px"><span class="t" style="left:10.2px">MEMUSED</span><svg class="caret" style="left:118.8px" width="10.4" height="5.2" viewBox="0 0 10.4 5.2"><path d="M0 0H10.4L5.2 5.2Z" fill="#fff"/></svg></div>
<div class="btn" style="left:620px;width:123px"><span class="c">Property Info</span></div>
<div class="btn active" style="left:883px;width:142px"><span class="c">Toggle Severity</span></div>
<div class="btn l" style="left:1135px;width:183px"><span class="t" style="left:10.8px">Choose quantiles</span><svg class="caret" style="left:164.8px" width="10.4" height="5.2" viewBox="0 0 10.4 5.2"><path d="M0 0H10.4L5.2 5.2Z" fill="#fff"/></svg></div>
<div class="btn" style="left:1457px;width:84px"><span class="c">Job Info</span></div>
<div class="btn l" style="left:1692px;width:159px"><svg class="ico" style="left:10.9px" width="22.1" height="22.1" viewBox="0 0 16 16" fill="#fff"><path d="M6 12v-2h3v2H6z"/><path d="M9.293 0H4a2 2 0 0 0-2 2v12a2 2 0 0 0 2 2h8a2 2 0 0 0 2-2V4.707A1 1 0 0 0 13.707 4L10 .293A1 1 0 0 0 9.293 0zM9.5 3.5v-2l3 3h-2a1 1 0 0 1-1-1zM3 9h10v1h-3v2h3v1h-3v2H9v-2H6v2H5v-2H3v-1h2v-2H3V9z"/></svg><span class="t" style="left:38.9px">Export in CSV</span></div>
</div>
<div class="topline"></div>
<div class="bar" style="top:427px">
<div class="btn l" style="left:292px;width:105px"><span class="t" style="left:10.2px">FLOPS</span><svg class="caret" style="left:86.8px" width="10.4" height="5.2" viewBox="0 0 10.4 5.2"><path d="M0 0H10.4L5.2 5.2Z" fill="#fff"/></svg></div>
<div class="btn" style="left:654px;width:123px"><span class="c">Property Info</span></div>
<div class="btn l" style="left:1007px;width:159px"><svg class="ico" style="left:10.9px" width="22.1" height="22.1" viewBox="0 0 16 16" fill="#fff"><path d="M6 12v-2h3v2H6z"/><path d="M9.293 0H4a2 2 0 0 0-2 2v12a2 2 0 0 0 2 2h8a2 2 0 0 0 2-2V4.707A1 1 0 0 0 13.707 4L10 .293A1 1 0 0 0 9.293 0zM9.5 3.5v-2l3 3h-2a1 1 0 0 1-1-1zM3 9h10v1h-3v2h3v1h-3v2H9v-2H6v2H5v-2H3v-1h2v-2H3V9z"/></svg><span class="t" style="left:38.9px">Export in CSV</span></div>
</div>
</div>
<div class="sb"><i></i></div>
</body>
</html>
